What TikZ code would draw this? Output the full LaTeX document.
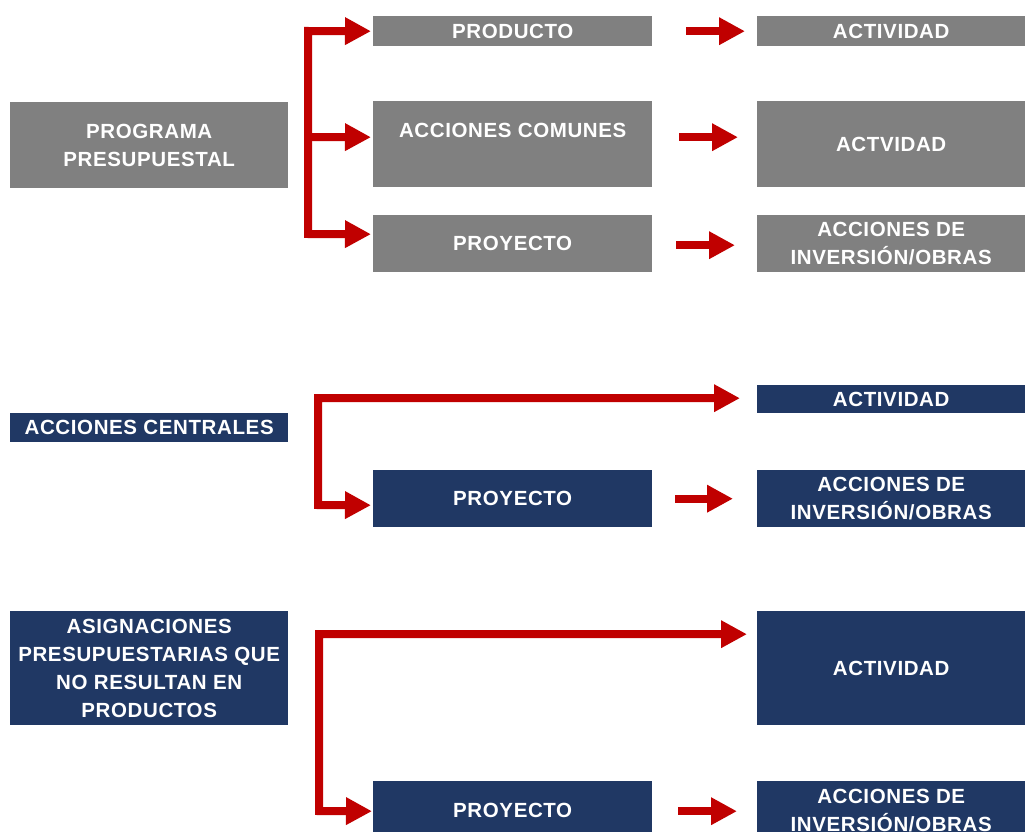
\documentclass[tikz,border=0pt]{standalone}
\usepackage{fontspec}
\setmainfont{Liberation Sans}
\newfontfamily\boxfont[LetterSpace=3]{Liberation Sans}
\usetikzlibrary{arrows.meta}
\definecolor{boxgray}{HTML}{808080}
\definecolor{navy}{HTML}{203864}
\definecolor{arrred}{HTML}{C00000}
\begin{document}
\begin{tikzpicture}[x=1pt,y=-1pt,
  box/.style={rectangle, inner sep=0pt, anchor=north west, text=white,
    font=\boxfont\fontsize{20.5}{28}\selectfont\bfseries, align=center},
  graybox/.style={box, fill=boxgray},
  navybox/.style={box, fill=navy},
  redline/.style={draw=arrred, line width=8pt, line join=miter},
  redarrow/.style={redline, -{Triangle[length=26pt,width=26pt]}},
  redbiarrow/.style={redline, {Triangle[length=26pt,width=26pt]}-{Triangle[length=26pt,width=26pt]}}
]
\path[use as bounding box] (0,0) rectangle (1025,832);

% ---- Group 1 (gray)
\node[graybox, minimum width=278pt, minimum height=86pt] (pp) at (10,102) {PROGRAMA\\PRESUPUESTAL};
\node[graybox, minimum width=279pt, minimum height=30pt] (prod) at (373,16) {PRODUCTO};
\node[graybox, minimum width=279pt, minimum height=86pt] (acom) at (373,101) {ACCIONES COMUNES\\\mbox{}};
\node[graybox, minimum width=279pt, minimum height=57pt] (proy1) at (373,215) {PROYECTO};
\node[graybox, minimum width=268pt, minimum height=30pt] (act1) at (757,16) {ACTIVIDAD};
\node[graybox, minimum width=268pt, minimum height=86pt] (act2) at (757,101) {ACTVIDAD};
\node[graybox, minimum width=268pt, minimum height=57pt] (inv1) at (757,215) {ACCIONES DE\\INVERSIÓN/OBRAS};

\coordinate (b1top) at (308,31);
\coordinate (b1mid) at (308,137);
\coordinate (b1bot) at (308,234);
\draw[redbiarrow, shorten <=2pt, shorten >=2pt] (prod.west) -- (b1top) -- (b1bot) -- ([yshift=9.5pt]proy1.west);
\draw[redarrow, shorten >=2pt] (b1mid) -- ([yshift=7pt]acom.west);

\draw[redarrow, shorten <=34pt, shorten >=12pt] (prod.east) -- (act1.west);
\draw[redarrow, shorten <=27pt, shorten >=19pt] ([yshift=7pt]acom.east) -- ([yshift=7pt]act2.west);
\draw[redarrow, shorten <=24pt, shorten >=22pt] ([yshift=-1.5pt]proy1.east) -- ([yshift=-1.5pt]inv1.west);

% ---- Group 2 (navy)
\node[navybox, minimum width=278pt, minimum height=29pt] (ac) at (10,413) {ACCIONES CENTRALES};
\node[navybox, minimum width=268pt, minimum height=28pt] (act3) at (757,385) {ACTIVIDAD};
\node[navybox, minimum width=279pt, minimum height=57pt] (proy2) at (373,470) {PROYECTO};
\node[navybox, minimum width=268pt, minimum height=57pt] (inv2) at (757,470) {ACCIONES DE\\INVERSIÓN/OBRAS};

\coordinate (b2top) at (318,398);
\coordinate (b2bot) at (318,505);
\draw[redbiarrow, shorten <=17pt, shorten >=2pt] ([yshift=1pt]act3.west) -- (b2top) -- (b2bot) -- ([yshift=-6.5pt]proy2.west);
\draw[redarrow, shorten <=23pt, shorten >=24pt] (proy2.east) -- (inv2.west);

% ---- Group 3 (navy)
\node[navybox, minimum width=278pt, minimum height=114pt] (asig) at (10,611) {ASIGNACIONES\\PRESUPUESTARIAS QUE\\NO RESULTAN EN\\PRODUCTOS};
\node[navybox, minimum width=268pt, minimum height=114pt] (act4) at (757,611) {ACTIVIDAD};
\node[navybox, minimum width=279pt, minimum height=58pt] (proy3) at (373,781) {PROYECTO};
\node[navybox, minimum width=268pt, minimum height=58pt] (inv3) at (757,781) {ACCIONES DE\\INVERSIÓN/OBRAS};

\coordinate (b3top) at (319,634);
\coordinate (b3bot) at (319,811);
\draw[redbiarrow, shorten <=10pt, shorten >=1pt] ([yshift=34pt]act4.west) -- (b3top) -- (b3bot) -- ([yshift=-1pt]proy3.west);
\draw[redarrow, shorten <=26pt, shorten >=20pt] ([yshift=-1pt]proy3.east) -- ([yshift=-1pt]inv3.west);
\end{tikzpicture}
\end{document}
